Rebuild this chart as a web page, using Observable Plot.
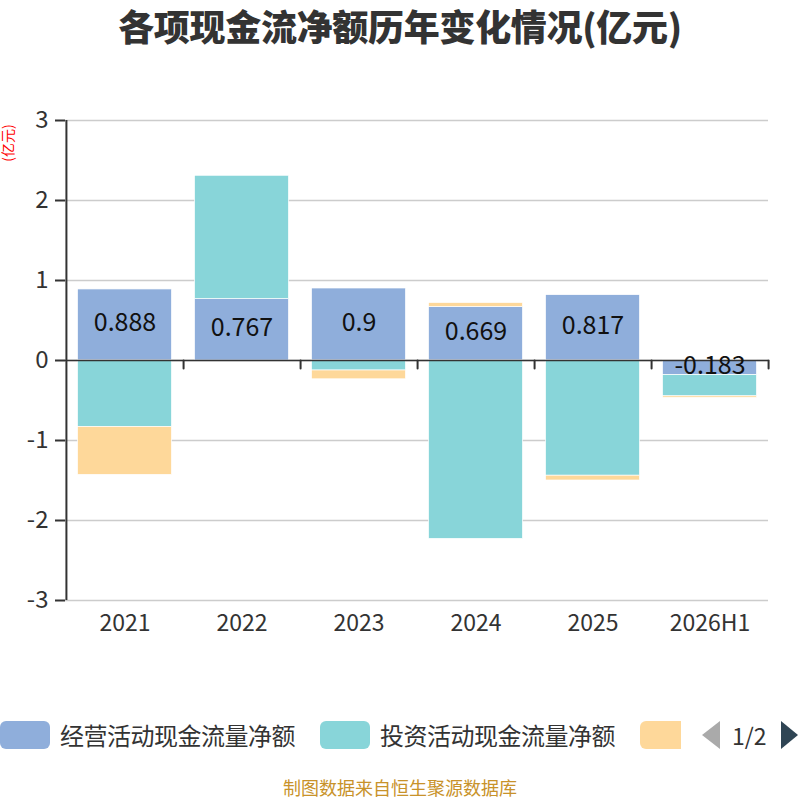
<!DOCTYPE html>
<html><head><meta charset="utf-8">
<script src="https://cdn.jsdelivr.net/npm/d3@7"></script>
<script src="https://cdn.jsdelivr.net/npm/@observablehq/plot@0.6"></script>
<style>
body{margin:0;background:#fff;font-family:"Noto Sans CJK SC","Noto Sans",sans-serif;}
#wrap{position:relative;width:800px;height:800px;overflow:hidden;}
#title{position:absolute;top:0px;left:0;width:800px;text-align:center;font-size:36px;line-height:50px;font-weight:900;color:#333;letter-spacing:-0.3px;}
#ylab{position:absolute;left:-12px;top:135px;transform:rotate(-90deg);color:red;font-size:14px;line-height:16px;}
#chart{position:absolute;left:0;top:0;}
.leg{position:absolute;top:717px;height:36px;line-height:36px;display:flex;align-items:center;font-size:24px;color:#333;white-space:nowrap;}
.sw{width:50px;height:28px;border-radius:6px;display:inline-block;}
#caption{position:absolute;top:777px;left:0;width:800px;text-align:center;font-size:18px;line-height:21px;color:#c8922a;}
</style></head>
<body><div id="wrap">
<div id="chart"></div>
<div id="title">各项现金流净额历年变化情况(亿元)</div>
<div id="ylab">(亿元)</div>
<div id="legend"></div>
<div id="caption">制图数据来自恒生聚源数据库</div>
</div>
<script>
const years = ["2021","2022","2023","2024","2025","2026H1"];
const seriesNames = ["经营活动现金流量净额","投资活动现金流量净额","筹资活动现金流量净额"];
const operating = [0.888, 0.767, 0.9, 0.669, 0.817, -0.183];
const investing = [-0.83, 1.542, -0.125, -2.23, -1.44, -0.265];
const financing = [-0.6, 0, -0.11, 0.05, -0.06, -0.02];
const colors = ["#8faedb","#88d5d9","#fed89a"];
const yTicks = [-3,-2,-1,0,1,2,3];

const seriesVals = [operating, investing, financing];
const data = [];
seriesNames.forEach((s, si) => years.forEach((y, yi) => data.push({year: y, series: s, value: seriesVals[si][yi]})));
const opData = years.map((y, i) => ({year: y, value: operating[i]}));

const W = 800, H = 700, mL = 65, mR = 32;
const halfBand = (W - mL - mR) / years.length / 2;

const plot = Plot.plot({
  width: W, height: H,
  marginTop: 120, marginBottom: 100, marginLeft: mL, marginRight: mR,
  style: {fontFamily: '"Noto Sans CJK SC","Noto Sans",sans-serif', color: "#333", background: "transparent"},
  x: {domain: years, padding: 0, label: null},
  y: {domain: [-3, 3], label: null},
  color: {domain: seriesNames, range: colors},
  marks: [
    Plot.gridY(yTicks, {stroke: "#ccc", strokeOpacity: 1, strokeWidth: 1.5}),
    Plot.barY(data, {x: "year", y: "value", fill: "series", z: "series", order: seriesNames, stroke: "#fff", strokeWidth: 0.7, insetLeft: 11.5, insetRight: 11.5}),
    Plot.ruleY([0], {stroke: "#333", strokeWidth: 1.5}),
    Plot.ruleX([years[0]], {x: d => d, dx: -halfBand, y1: -3, y2: 3, stroke: "#333", strokeWidth: 2}),
    Plot.vector(years, {x: d => d, y: () => 0, dx: halfBand, length: 8, rotate: 180, anchor: "start", stroke: "#333", strokeWidth: 2,
      shape: {draw(ctx, l) { ctx.moveTo(0, 0); ctx.lineTo(0, -l); }}}),
    Plot.axisY(yTicks, {tickSize: 10, tickPadding: 7, fontSize: 24, stroke: "#333", strokeWidth: 2, fill: "#333", tickFormat: d => String(d)}),
    Plot.axisX({tickSize: 0, tickPadding: 14, fontSize: 23, fill: "#333"}),
    Plot.text(opData, {x: "year", y: d => d.value / 2, text: d => String(d.value), fontSize: 25, fill: "#111", dy: -2})
  ]
});
document.getElementById("chart").appendChild(plot);

// legend (paged, as in reference: third item's label is on page 2)
const leg = document.getElementById("legend");
const legX = [0, 320, 640];
seriesNames.forEach((s, i) => {
  const d = document.createElement("div");
  d.className = "leg";
  d.style.left = legX[i] + "px";
  if (i < 2) {
    d.innerHTML = `<span class="sw" style="background:${colors[i]};flex:none"></span><span style="margin-left:10px;letter-spacing:-0.5px">${s}</span>`;
  } else {
    d.style.width = "41px";
    d.style.overflow = "hidden";
    d.innerHTML = `<span class="sw" style="background:${colors[i]};flex:none"></span>`;
    d.title = s;
  }
  leg.appendChild(d);
});
function addPager(left, width, html, extra) {
  const p = document.createElement("div");
  p.className = "leg";
  p.style.left = left + "px";
  p.style.width = width + "px";
  if (extra) Object.assign(p.style, extra);
  p.innerHTML = html;
  leg.appendChild(p);
}
addPager(702, 18, `<svg width="18" height="28"><path d="M18,0 L18,28 L0,14 Z" fill="#aaa"/></svg>`);
addPager(732, 40, `<span>1/2</span>`, {fontSize: "23px"});
addPager(781, 18, `<svg width="18" height="28"><path d="M0,0 L0,28 L17,14 Z" fill="#2f4554"/></svg>`);
</script>
</body></html>
